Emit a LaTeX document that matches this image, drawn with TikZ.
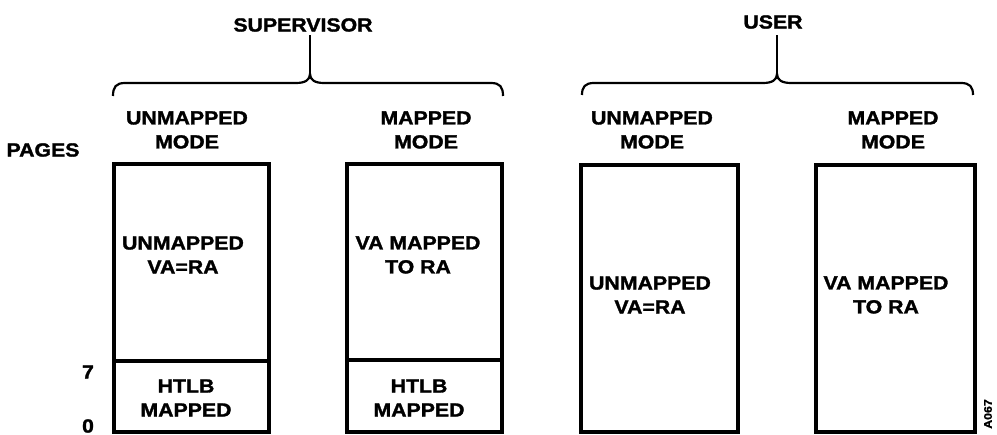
\documentclass[tikz,border=0pt]{standalone}
\usepackage{fontspec}
\newfontfamily\hv[FakeStretch=1.12,FakeBold=1.6]{Liberation Sans}
\begin{document}
\begin{tikzpicture}[x=1pt,y=-1pt,
  lbl/.style={font=\hv\bfseries\fontsize{19}{24}\selectfont, align=center, inner sep=0pt},
  small/.style={font=\hv\bfseries\fontsize{11}{12}\selectfont, inner sep=0pt},
  boxline/.style={line width=4pt},
  brace/.style={line width=2.2pt}]
\useasboundingbox (0,0) rectangle (997,435);
% boxes
\coordinate (b1a) at (114,164); \coordinate (b1b) at (269,432);
\coordinate (b2a) at (347,164); \coordinate (b2b) at (502,432);
\coordinate (b3a) at (580.5,165); \coordinate (b3b) at (737.5,432);
\coordinate (b4a) at (815.5,165); \coordinate (b4b) at (974.5,432);
\draw[boxline] (b1a) rectangle (b1b);
\draw[boxline] (b2a) rectangle (b2b);
\draw[boxline] (b3a) rectangle (b3b);
\draw[boxline] (b4a) rectangle (b4b);
\coordinate (d1a) at (114,361.5); \coordinate (d1b) at (269,361.5);
\coordinate (d2a) at (347,360.5); \coordinate (d2b) at (502,360.5);
\draw[boxline] (d1a) -- (d1b);
\draw[boxline] (d2a) -- (d2b);
% braces
\coordinate (s1) at (113,96); \coordinate (s2) at (503,96);
\coordinate (stip) at (310,74); \coordinate (stop) at (310,35);
\draw[brace] (s1) .. controls (113,87) and (116,83) .. (125,83) -- (296,83)
  .. controls (305,83) and (310,80) .. (stip)
  .. controls (310,80) and (315,83) .. (324,83) -- (491,83)
  .. controls (500,83) and (503,87) .. (s2);
\draw[brace] (stip) -- (stop);
\coordinate (u1) at (582,95); \coordinate (u2) at (973,95);
\coordinate (utip) at (777,74); \coordinate (utop) at (777,35);
\draw[brace] (u1) .. controls (582,87) and (585,83) .. (594,83) -- (763,83)
  .. controls (772,83) and (777,80) .. (utip)
  .. controls (777,80) and (782,83) .. (791,83) -- (961,83)
  .. controls (970,83) and (973,87) .. (u2);
\draw[brace] (utip) -- (utop);
% titles
\node[lbl] (sup) at (303,25) {SUPERVISOR};
\node[lbl] (usr) at (773,22) {USER};
\node[lbl] (h1) at (187,130) {UNMAPPED\\MODE};
\node[lbl] (h2) at (426,130) {MAPPED\\MODE};
\node[lbl] (h3) at (652,130) {UNMAPPED\\MODE};
\node[lbl] (h4) at (893,130) {MAPPED\\MODE};
\node[lbl] (pages) at (43,150) {PAGES};
\node[lbl] (p7) at (88,372) {7};
\node[lbl] (p0) at (88,426) {0};
% contents
\node[lbl] (t1) at (183,255) {UNMAPPED\\VA=RA};
\node[lbl] (t2) at (418,255) {VA MAPPED\\TO RA};
\node[lbl] (t3) at (650,295) {UNMAPPED\\VA=RA};
\node[lbl] (t4) at (886,295) {VA MAPPED\\TO RA};
\node[lbl] (m1) at (186,398) {HTLB\\MAPPED};
\node[lbl] (m2) at (419,398) {HTLB\\MAPPED};
\node[small, rotate=90] (code) at (988,414) {A067};
\end{tikzpicture}
\end{document}
